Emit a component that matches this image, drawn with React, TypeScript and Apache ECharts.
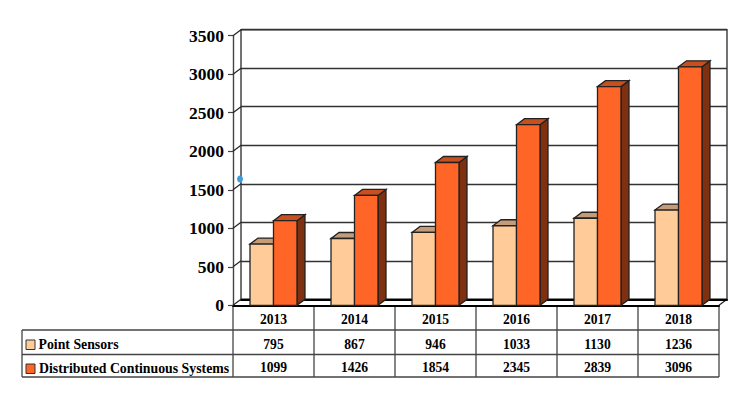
import React, { useEffect, useRef } from "react";
import * as echarts from "echarts";

const years = ["2013", "2014", "2015", "2016", "2017", "2018"];
const pointSensors = [795, 867, 946, 1033, 1130, 1236];
const distributed = [1099, 1426, 1854, 2345, 2839, 3096];
const yTicks = [0, 500, 1000, 1500, 2000, 2500, 3000, 3500];
const seriesNames = ["Point Sensors", "Distributed Continuous Systems"];

const FONT = '"Liberation Serif", serif';
const L = 233, R = 719, T = 35.7, B = 305.3, DX = 8, DY = -6;
const band = (R - L) / years.length;
const rowLines = [305.3, 330, 354.5, 377];

function bar3d(side: number, front: string, top: string, flank: string) {
  return (_p: any, api: any) => {
    const p = api.coord([api.value(0), api.value(1)]);
    const z = api.coord([api.value(0), 0]);
    const w = api.size([1, 0])[0] * 0.29;
    const x0 = side < 0 ? p[0] - w : p[0];
    const x1 = x0 + w;
    const ln = { stroke: "#222", lineWidth: 1.3, lineJoin: "miter" };
    return {
      type: "group",
      children: [
        { type: "polygon", shape: { points: [[x1, p[1]], [x1 + DX, p[1] + DY], [x1 + DX, z[1] + DY], [x1, z[1]]] }, style: { fill: flank, ...ln } },
        { type: "polygon", shape: { points: [[x0, p[1]], [x0 + DX, p[1] + DY], [x1 + DX, p[1] + DY], [x1, p[1]]] }, style: { fill: top, ...ln } },
        { type: "rect", shape: { x: x0, y: p[1], width: w, height: z[1] - p[1] }, style: { fill: front, ...ln } },
      ],
    };
  };
}

function floorItem(_p: any, api: any) {
  const y = api.coord([0, api.value(1)])[1];
  return {
    type: "line",
    shape: { x1: L, y1: y, x2: L + DX, y2: y + DY },
    style: { stroke: "#222", lineWidth: 1.2 },
  };
}

function tableGraphics() {
  const items: any[] = [];
  const line = (x1: number, y1: number, x2: number, y2: number) =>
    items.push({ type: "line", silent: true, shape: { x1, y1, x2, y2 }, style: { stroke: "#444", lineWidth: 1.3 } });
  line(22, rowLines[1], R, rowLines[1]);
  line(22, rowLines[2], R, rowLines[2]);
  line(22, rowLines[3], R, rowLines[3]);
  line(22, rowLines[1], 22, rowLines[3]);
  years.forEach((_, i) => line(L + band * i, rowLines[0], L + band * i, rowLines[3]));
  line(R, rowLines[0], R, rowLines[3]);

  const swatch = (y: number, fill: string) =>
    items.push({ type: "rect", shape: { x: 26, y, width: 9, height: 9.5 }, style: { fill, stroke: "#333", lineWidth: 1 } });
  swatch(340, "#FFCC99");
  swatch(364, "#FF6527");

  const text = (t: string, x: number, y: number, align: string, fontSize: number) =>
    items.push({
      type: "text",
      x, y,
      style: { text: t, x: 0, y: 0, align, verticalAlign: "middle", fill: "#000", font: `bold ${fontSize}px ${FONT}` },
    });
  text(seriesNames[0], 38.5, 344.5, "left", 13.8);
  text(seriesNames[1], 39, 368.5, "left", 13.8);
  [pointSensors, distributed].forEach((vals, r) =>
    vals.forEach((v, i) => text(String(v), L + band * (i + 0.5), r === 0 ? 344 : 367.5, "center", 13.6))
  );
  return items;
}

export default function App() {
  const ref = useRef<HTMLDivElement>(null);
  useEffect(() => {
    const chart = echarts.init(ref.current!, undefined, { renderer: "svg" });
    const hidden = { show: false };
    chart.setOption({
      animation: false,
      backgroundColor: "#fff",
      grid: [
        { left: L, top: T, width: R - L, height: B - T, containLabel: false },
        {
          left: L + DX, top: T + DY, width: R - L, height: B - T,
          show: true, backgroundColor: "#fff", borderColor: "#444", borderWidth: 1.5,
        },
      ],
      xAxis: [
        {
          type: "category", gridIndex: 0, data: years,
          axisLine: { lineStyle: { color: "#000", width: 2 } },
          axisTick: hidden,
          axisLabel: { color: "#000", fontFamily: FONT, fontWeight: "bold", fontSize: 13.6, margin: 7 },
        },
        { type: "category", gridIndex: 1, data: years, axisLine: { lineStyle: { color: "#000", width: 2 } }, axisTick: hidden, axisLabel: hidden },
      ],
      yAxis: [
        {
          type: "value", gridIndex: 0, min: 0, max: 3500, interval: 500,
          axisLine: { show: true, lineStyle: { color: "#444", width: 1.4 } },
          axisTick: { show: true, length: 5, lineStyle: { color: "#444", width: 1.2 } },
          splitLine: hidden,
          axisLabel: { color: "#000", fontFamily: FONT, fontWeight: "bold", fontSize: 17.5, margin: 9, formatter: (v: number) => String(v) },
        },
        {
          type: "value", gridIndex: 1, min: 0, max: 3500, interval: 500,
          axisLine: hidden, axisTick: hidden, axisLabel: hidden,
          splitLine: { show: true, lineStyle: { color: "#333", width: 1.3 } },
        },
      ],
      series: [
        {
          type: "custom", name: "frame", xAxisIndex: 0, yAxisIndex: 0, clip: false, silent: true,
          renderItem: floorItem, data: yTicks.map((v) => [0, v]), z: 1,
        },
        {
          type: "custom", name: seriesNames[0], xAxisIndex: 0, yAxisIndex: 0, clip: false,
          renderItem: bar3d(-1, "#FFCC99", "#C69C78", "#7F3010"),
          data: pointSensors.map((v, i) => [i, v]), encode: { x: 0, y: 1 }, z: 3,
        },
        {
          type: "custom", name: seriesNames[1], xAxisIndex: 0, yAxisIndex: 0, clip: false,
          renderItem: bar3d(1, "#FF6527", "#C8501E", "#7F3010"),
          data: distributed.map((v, i) => [i, v]), encode: { x: 0, y: 1 }, z: 4,
        },
      ],
      graphic: { elements: [
        { type: "ellipse", silent: true, shape: { cx: 240, cy: 179, rx: 3, ry: 3.5 }, style: { fill: "#3F9BE0" } },
        { type: "line", silent: true, shape: { x1: R, y1: B, x2: R + DX, y2: B + DY }, style: { stroke: "#222", lineWidth: 1.2 } },
        ...tableGraphics(),
      ] },
    });
    return () => chart.dispose();
  }, []);
  return <div ref={ref} style={{ position: "absolute", left: 0, top: 0, width: 750, height: 400 }} />;
}
